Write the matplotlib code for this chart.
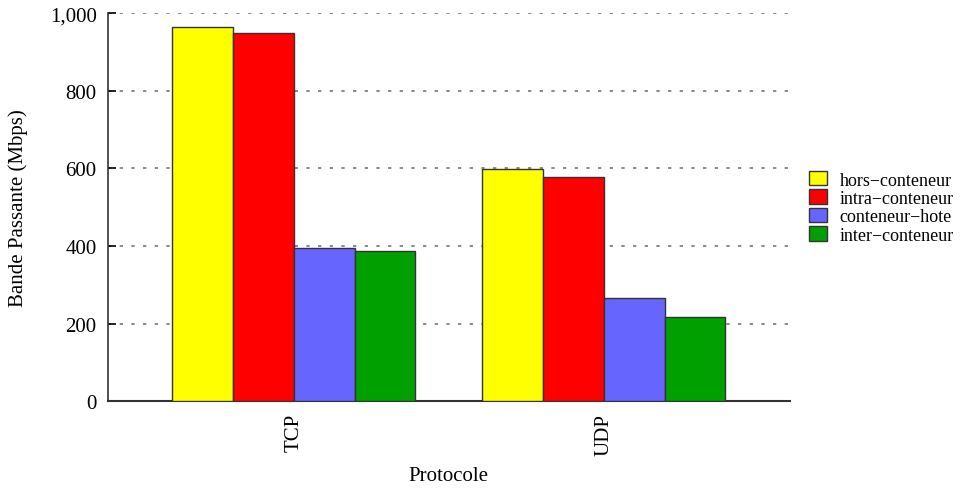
import numpy as np
import matplotlib.pyplot as plt
from matplotlib.ticker import FuncFormatter

protocols = ["TCP", "UDP"]
series = ["hors\u2212conteneur", "intra\u2212conteneur", "conteneur\u2212hote", "inter\u2212conteneur"]
values = [[965, 599], [950, 577], [396, 266], [387, 218]]
colors = ["#ffff00", "#ff0000", "#6666ff", "#00a000"]

plt.rcParams["font.family"] = ["Liberation Serif", "DejaVu Serif"]

fig = plt.figure(figsize=(9.62, 4.89), dpi=100)
ax = fig.add_axes([0.112, 0.177, 0.709, 0.794])

x = np.arange(len(protocols))
width = 0.196
for i, (name, vals) in enumerate(zip(series, values)):
    ax.bar(x + (i - 1.5) * width, vals, width, color=colors[i], edgecolor="#333333",
           linewidth=1.0, label=name, zorder=3)

ax.set_xlim(-0.6, 1.6)
ax.set_ylim(0, 1000)
ax.set_yticks(np.arange(0, 1001, 200))
ax.yaxis.set_major_formatter(FuncFormatter(lambda v, p: f"{int(v):,}"))
ax.set_xticks(x)
ax.set_xticklabels(protocols, rotation=90, fontsize=15)
ax.tick_params(axis="y", direction="in", length=6, labelsize=15, width=1.2, pad=8)
ax.tick_params(axis="x", length=0, pad=8)

ax.grid(axis="y", linestyle=(0, (2, 5)), color="#777777", linewidth=1.2, zorder=0)
for s in ["top", "right"]:
    ax.spines[s].set_visible(False)
ax.spines["left"].set_linewidth(1.2)
ax.spines["bottom"].set_linewidth(1.5)
ax.spines["left"].set_color("#333333")
ax.spines["bottom"].set_color("#333333")

ax.set_ylabel("Bande Passante (Mbps)", fontsize=15, labelpad=16)
ax.set_xlabel("Protocole", fontsize=15, labelpad=8)

ax.legend(loc="center left", bbox_to_anchor=(1.004, 0.50), frameon=False, fontsize=13,
          handlelength=1.0, handleheight=0.85, handletextpad=0.7, labelspacing=0.05)

fig.savefig("out.png", dpi=100)
